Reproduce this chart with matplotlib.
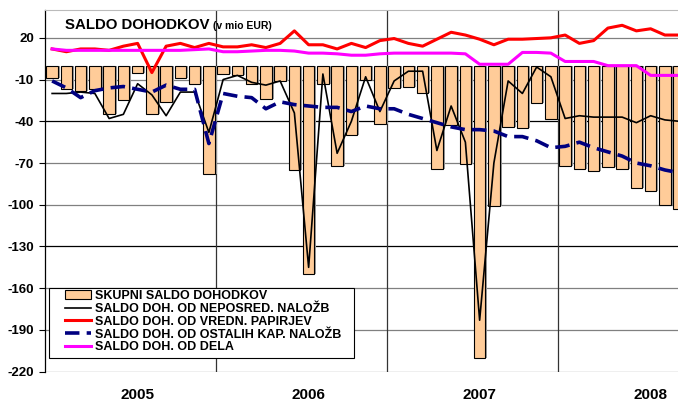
import numpy as np
import matplotlib.pyplot as plt
from matplotlib.patches import Patch, Rectangle
from matplotlib.lines import Line2D

plt.rcParams['font.family'] = ['Liberation Sans', 'DejaVu Sans']
plt.rcParams['font.weight'] = 'bold'

#Data (mio EUR), monthly Jan 2005 - Sep 2008
years = ['2005', '2006', '2007', '2008']
skupni = [-9, -17, -18, -17, -35, -25, -5, -35, -26, -9, -13, -78,
          -6, -7, -13, -24, -11, -75, -150, -13, -72, -50, -10, -42,
          -16, -15, -20, -74, -43, -71, -210, -101, -44, -45, -27, -38,
          -72, -74, -76, -73, -74, -88, -90, -100, -103]
neposred = [-20, -20, -19, -20, -38, -35, -13, -21, -36, -19, -19, -48,
            -10, -7, -12, -14, -11, -34, -145, -6, -63, -40, -8, -33,
            -11, -4, -4, -61, -29, -55, -183, -70, -11, -20, -1, -8,
            -38, -36, -37, -37, -37, -41, -36, -39, -40]
vredn = [12, 10, 12, 12, 11, 14, 16, -5, 14, 16, 13, 16,
         13.5, 13.5, 15, 13, 16, 25, 15, 15, 12, 16, 13, 18,
         19.5, 16, 14, 19, 24, 22, 19, 15, 19, 19, 19.5, 20,
         22, 16, 18, 27, 29, 25, 26.5, 22, 22]
ostalih = [-11, -16, -23, -18, -16, -15, -17, -19, -14, -17, -17, -56,
           -20, -22, -23, -31, -26, -28, -29, -30, -30, -33, -29, -31,
           -31, -35, -38, -41, -44, -46, -46, -47, -51, -51, -54, -59,
           -58, -55, -59, -62, -65, -70, -72, -75, -77]
dela = [12, 11, 11, 11, 11, 11, 11, 11, 11, 11, 11.5, 12,
        10, 10, 10.5, 11, 11, 10.5, 9, 9, 8.5, 7.5, 7.5, 8.5,
        9, 9, 9, 9, 9, 8.5, 1, 1, 1, 9.5, 9.5, 9,
        3, 3, 3, 0, 0, 0, -7, -7, -7]
labels = ['SKUPNI SALDO DOHODKOV', 'SALDO DOH. OD NEPOSRED. NALOŽB',
          'SALDO DOH. OD VREDN. PAPIRJEV', 'SALDO DOH. OD OSTALIH KAP. NALOŽB',
          'SALDO DOH. OD DELA']

x = np.arange(len(skupni))

fig = plt.figure(figsize=(6.78, 4.01), dpi=100)
ax = fig.add_axes([45/678, 1-371.7/401, 633/678, (371.7-10)/401])

#grid lines
yticks = list(range(-220, 21, 30))
for v in yticks:
    ax.axhline(v, color='black' if v in (-40, -130) else '#808080', lw=0.9, zorder=0)
for b in (11.5, 23.5, 35.5):
    ax.axvline(b, color='#333333', lw=0.9, zorder=0)

#bars with a grey shadow
ax.bar(x + 0.13, skupni, width=0.82, color='#9a9a9a', zorder=1)
ax.bar(x, skupni, width=0.82, color='#FFCC99', edgecolor='black', lw=0.8, zorder=2)

ax.plot(x, neposred, color='black', lw=1.2, zorder=5)
ax.plot(x, vredn, color='#FF0000', lw=2.2, zorder=3)
ax.plot(x, dela, color='#FF00FF', lw=2.2, zorder=4)
ax.plot(x, ostalih, color='#000080', lw=2.6, dashes=(4, 2), zorder=5)

ax.set_xlim(-0.5, 43.92)
ax.set_ylim(-220, 40)
ax.set_yticks(yticks)
ax.set_yticklabels([str(v) for v in yticks], fontsize=9.5, fontweight='bold')
ax.tick_params(axis='y', direction='out', length=4, width=0.8, pad=4)
ax.set_xticks([6, 18, 30, 42])
ax.set_xticklabels(years, fontsize=11, fontweight='bold')
ax.tick_params(axis='x', length=0, pad=11.5)

ax.spines['right'].set_visible(False)
ax.spines['bottom'].set_visible(False)
ax.spines['top'].set_color('#BBBBBB')
ax.spines['left'].set_linewidth(0.9)

#title
fig.text(65/678, 1-29.3/401, 'SALDO DOHODKOV', fontsize=10.8, fontweight='bold', va='baseline')
fig.text(213/678, 1-29.3/401, '(v mio EUR)', fontsize=7.5, fontweight='bold', va='baseline')

#legend box drawn separately so the padding matches
box = Rectangle((49/678, 1-358/401), 305/678, 70/401, transform=fig.transFigure,
                facecolor='white', edgecolor='black', lw=0.8, zorder=4)
fig.add_artist(box)
handles = [Patch(facecolor='#FFCC99', edgecolor='black', lw=0.8),
           Line2D([], [], color='black', lw=1.2),
           Line2D([], [], color='#FF0000', lw=2.2),
           Line2D([], [], color='#000080', lw=2.6, dashes=(4, 2)),
           Line2D([], [], color='#FF00FF', lw=2.2)]
leg = fig.legend(handles, labels, loc='upper left', bbox_to_anchor=(65/678, 1-290/401),
                 prop={'size': 9, 'weight': 'bold'}, frameon=False, borderpad=0,
                 labelspacing=0.07, handlelength=2.1, handletextpad=0.32, borderaxespad=0)
leg.set_zorder(5)

fig.savefig('out.png', dpi=100)
